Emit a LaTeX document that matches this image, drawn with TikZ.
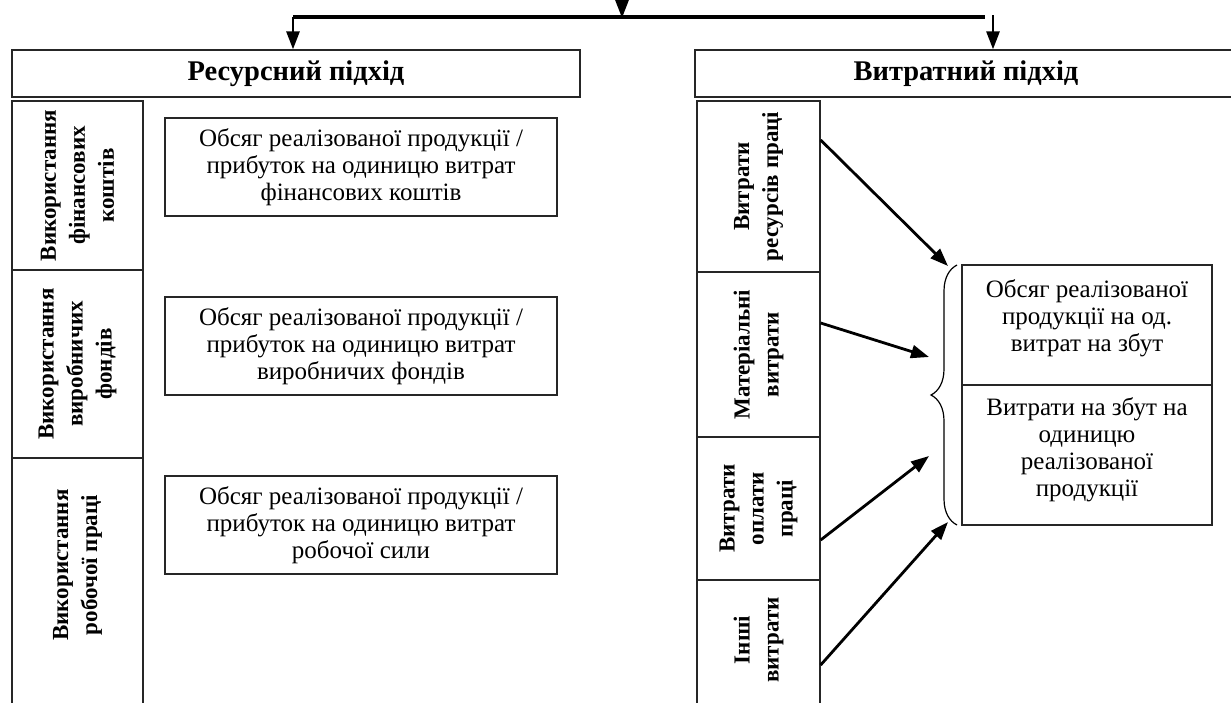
\documentclass[tikz,border=0pt]{standalone}
\usepackage{fontspec}
\setmainfont{Liberation Serif}
\usetikzlibrary{arrows.meta,decorations.pathreplacing}
\begin{document}
\begin{tikzpicture}[x=1pt,y=-1pt,
  box/.style={draw=black!85, line width=1.3pt, inner sep=0pt, align=center},
  txt/.style={font=\fontsize{25}{27}\selectfont},
  vtxt/.style={font=\fontsize{23}{29}\selectfont\bfseries, rotate=90, align=center, inner sep=0pt},
  hdr/.style={font=\fontsize{28.5}{30}\selectfont\bfseries},
  arr/.style={line width=2.8pt, -{Triangle[length=18pt,width=13pt]}},
]
\useasboundingbox (0,0) rectangle (1231,702);

% headers
\node[box, hdr, minimum width=568pt, minimum height=47pt] (lh) at (296,73.5) {Ресурсний підхід};
\node[box, hdr, minimum width=540pt, minimum height=47pt] (rh) at (965,73.5) {};
\node[hdr] (rht) at (966,73.5) {Витратний підхід};

% top connectors
\coordinate (src) at (622,-4);
\coordinate (tip) at (622,18);
\coordinate (hl) at (293,17);
\coordinate (hr) at (985,17);
\coordinate (hr2) at (993,15);
\draw[arr] (src) -- (tip);
\draw[line width=4pt] (hl) -- (hr);
\draw[arr] (hl) -- (lh.north -| hl);
\draw[arr] (hr2) -- (rh.north -| hr2);

% left column
\node[box, minimum width=131pt, minimum height=169pt] (l1) at (77.5,185.5) {};
\node[box, minimum width=131pt, minimum height=188pt] (l2) at (77.5,364) {};
\node[box, minimum width=131pt, minimum height=262pt] (l3) at (77.5,589) {};
\node[vtxt] (l1t) at (l1.center) {Використання\\фінансових\\коштів};
\node[vtxt] (l2t) at (l2.center) {Використання\\виробничих\\фондів};
\node[vtxt] (l3t) at (77.5,565) {Використання\\робочої праці};

% middle boxes
\node[box, txt, minimum width=392pt, minimum height=98pt] (m1) at (361,167) {Обсяг реалізованої продукції /\\прибуток на одиницю витрат\\фінансових коштів};
\node[box, txt, minimum width=392pt, minimum height=98pt] (m2) at (361,346) {Обсяг реалізованої продукції /\\прибуток на одиницю витрат\\виробничих фондів};
\node[box, txt, minimum width=392pt, minimum height=98pt] (m3) at (361,525) {Обсяг реалізованої продукції /\\прибуток на одиницю витрат\\робочої сили};

% right column
\node[box, minimum width=123pt, minimum height=171pt] (r1) at (758.5,186.5) {};
\node[box, minimum width=123pt, minimum height=165pt] (r2) at (758.5,354.5) {};
\node[box, minimum width=123pt, minimum height=143pt] (r3) at (758.5,508.5) {};
\node[box, minimum width=123pt, minimum height=140pt] (r4) at (758.5,650) {};
\node[vtxt] (r1t) at (r1.center) {Витрати\\ресурсів праці};
\node[vtxt] (r2t) at (r2.center) {Матеріальні\\витрати};
\node[vtxt] (r3t) at (r3.center) {Витрати\\оплати\\праці};
\node[vtxt] (r4t) at (758.5,640) {Інші\\витрати};

% right boxes
\node[box, minimum width=250pt, minimum height=120pt] (b1) at (1087,325) {};
\node[box, minimum width=250pt, minimum height=140pt] (b2) at (1087,455) {};
\node[txt, align=center] (b1t) at (1087,318) {Обсяг реалізованої\\продукції на од.\\витрат на збут};
\node[txt, align=center] (b2t) at (1087,450) {Витрати на збут на\\одиницю\\реалізованої\\продукції};

% brace
\draw[line width=1.2pt, decorate, decoration={brace, amplitude=26pt}] (957,525) -- (957,265);

% arrows into brace
\coordinate (s1) at (r1.east |- 0,140);
\coordinate (s2) at (r2.east |- 0,323);
\coordinate (s3) at (r3.east |- 0,540);
\coordinate (s4) at (r4.east |- 0,665);
\coordinate (t1) at (948,266);
\coordinate (t2) at (929,357);
\coordinate (t3) at (929,456);
\coordinate (t4) at (948,522);
\draw[arr] (s1) -- (t1);
\draw[arr] (s2) -- (t2);
\draw[arr] (s3) -- (t3);
\draw[arr] (s4) -- (t4);
\end{tikzpicture}
\end{document}
